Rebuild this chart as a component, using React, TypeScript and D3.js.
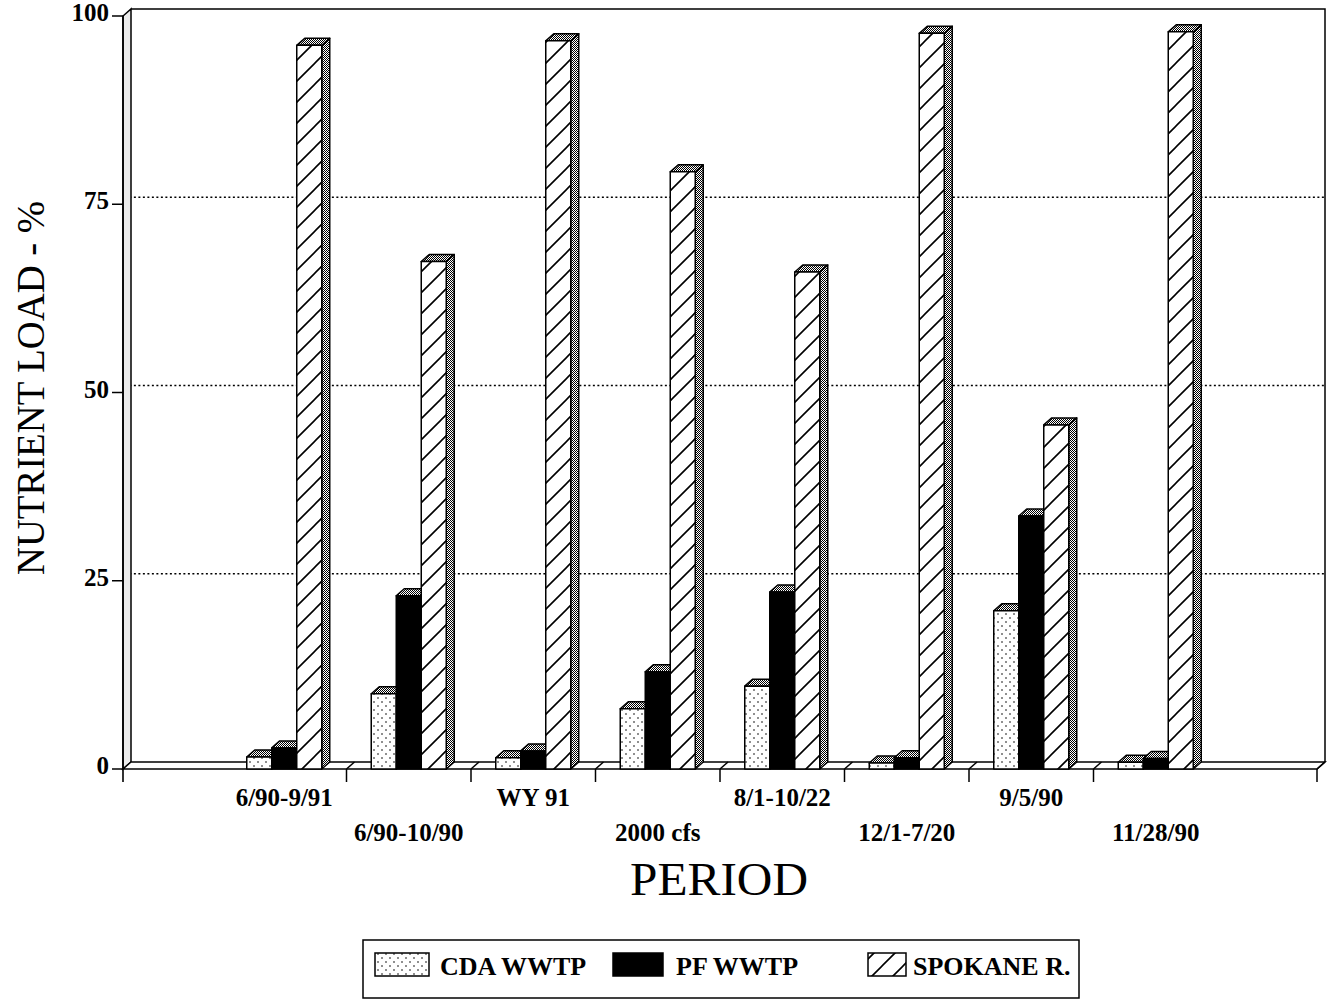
import React from "react";
import * as d3 from "d3";

// Nutrient load share (%) by period for the three sources
const categories = [
  "6/90-9/91",
  "6/90-10/90",
  "WY 91",
  "2000 cfs",
  "8/1-10/22",
  "12/1-7/20",
  "9/5/90",
  "11/28/90",
];
const cdaValues = [1.6, 10.0, 1.5, 8.0, 11.0, 0.8, 21.0, 0.9];
const pfValues = [2.8, 23.0, 2.4, 12.9, 23.5, 1.5, 33.6, 1.4];
const spokaneValues = [96.1, 67.4, 96.7, 79.3, 66.0, 97.7, 45.7, 97.9];
const seriesNames = ["CDA WWTP", "PF WWTP", "SPOKANE R."];
const yTicks = [0, 25, 50, 75, 100];

const W = 1328;
const H = 1000;
const DX = 8; // depth offset of the 3-D frame
const DY = 7;
const AXIS_LEFT = 123;
const AXIS_RIGHT = 1317;
const BASE = 769;
const BAR_W = 25;
const SERIF = "'Liberation Serif', 'Times New Roman', Times, serif";

const x = d3.scaleBand<string>().domain(categories).range([222, 1218]).padding(0);
const y = d3.scaleLinear().domain([0, 100]).range([BASE, 16]);

const fills = ["url(#dots)", "#000", "url(#hatch)"];
const series = [cdaValues, pfValues, spokaneValues];

function Bar({ x0, v, fill }: { x0: number; v: number; fill: string }) {
  const x1 = x0 + BAR_W;
  const yt = y(v);
  const top = `M${x0},${yt}L${x1},${yt}L${x1 + DX},${yt - DY}L${x0 + DX},${yt - DY}Z`;
  const side = `M${x1},${yt}L${x1 + DX},${yt - DY}L${x1 + DX},${BASE - DY}L${x1},${BASE}Z`;
  return (
    <g stroke="#000" strokeWidth={1.5} strokeLinejoin="round">
      <path d={side} fill="url(#stipple)" />
      <path d={top} fill="url(#stipple)" />
      <rect x={x0} y={yt} width={BAR_W} height={BASE - yt} fill={fill} />
    </g>
  );
}

export default function App() {
  const bw = x.bandwidth();
  const boundaries = categories.slice(1).map((c) => x(c)!);
  const tickXs = [...boundaries, AXIS_RIGHT];

  return (
    <svg
      width={W}
      height={H}
      style={{ position: "absolute", left: 0, top: 0, background: "#fff" }}
      fontFamily={SERIF}
    >
      <defs>
        <pattern id="dots" patternUnits="userSpaceOnUse" width={8} height={8}>
          <rect width={8} height={8} fill="#fff" />
          <circle cx={2} cy={2} r={0.8} fill="#000" />
          <circle cx={6} cy={6} r={0.8} fill="#000" />
        </pattern>
        <pattern id="hatch" patternUnits="userSpaceOnUse" width={21} height={21}>
          <rect width={21} height={21} fill="#fff" />
          <path d="M-5,5L5,-5M0,21L21,0M16,26L26,16" stroke="#000" strokeWidth={1.6} />
        </pattern>
        <pattern id="stipple" patternUnits="userSpaceOnUse" width={2} height={2}>
          <rect width={2} height={2} fill="#fff" />
          <rect x={0} y={0} width={1} height={1} fill="#000" />
          <rect x={1} y={1} width={1} height={1} fill="#000" />
        </pattern>
      </defs>

      {/* back wall */}
      <path
        d={`M${AXIS_LEFT + DX},${y(100) - DY}L${AXIS_RIGHT + DX},${y(100) - DY}L${AXIS_RIGHT + DX},${BASE - DY}`}
        fill="none"
        stroke="#000"
        strokeWidth={1.5}
      />

      {/* gridlines on the back wall */}
      {yTicks
        .filter((t) => t > 0 && t < 100)
        .map((t) => (
          <path
            key={t}
            d={`M${AXIS_LEFT},${y(t)}L${AXIS_LEFT + DX},${y(t) - DY}L${AXIS_RIGHT + DX},${y(t) - DY}`}
            fill="none"
            stroke="#000"
            strokeWidth={1.3}
            strokeDasharray="2 2.5"
          />
        ))}

      {/* left wall */}
      <path
        d={`M${AXIS_LEFT},${BASE}L${AXIS_LEFT},${y(100)}L${AXIS_LEFT + DX},${y(100) - DY}L${AXIS_LEFT + DX},${BASE - DY}Z`}
        fill="#ececec"
        stroke="#000"
        strokeWidth={1.5}
      />

      {/* floor */}
      <path
        d={`M${AXIS_LEFT},${BASE}L${AXIS_RIGHT},${BASE}L${AXIS_RIGHT + DX},${BASE - DY}L${AXIS_LEFT + DX},${BASE - DY}Z`}
        fill="#fff"
        stroke="#000"
        strokeWidth={1.5}
      />
      {tickXs.map((tx, i) => (
        <g key={i} stroke="#000" strokeWidth={1.5}>
          <line x1={tx} y1={BASE} x2={tx + DX} y2={BASE - DY} />
          <line x1={tx} y1={BASE} x2={tx} y2={BASE + 13} />
        </g>
      ))}
      <line x1={AXIS_LEFT} y1={y(100)} x2={AXIS_LEFT} y2={BASE + 13} stroke="#000" strokeWidth={1.6} />

      {/* y axis ticks and labels */}
      {yTicks.map((t) => (
        <g key={t}>
          <line x1={112} y1={y(t)} x2={AXIS_LEFT} y2={y(t)} stroke="#000" strokeWidth={1.5} />
          <text
            x={109}
            y={y(t) + 5}
            textAnchor="end"
            fontSize={25}
            fontWeight="bold"
          >
            {t}
          </text>
        </g>
      ))}

      {/* bars */}
      {categories.map((c, i) => {
        const cx = x(c)! + bw / 2;
        return (
          <g key={c}>
            {series.map((vals, s) => (
              <Bar key={s} x0={cx - 1.5 * BAR_W + s * BAR_W} v={vals[i]} fill={fills[s]} />
            ))}
          </g>
        );
      })}

      {/* category labels, staggered on two rows */}
      {categories.map((c, i) => (
        <text
          key={c}
          x={x(c)! + bw / 2}
          y={i % 2 === 0 ? 806 : 841}
          textAnchor="middle"
          fontSize={25}
          fontWeight="bold"
        >
          {c}
        </text>
      ))}

      {/* axis titles */}
      <text x={719} y={895} textAnchor="middle" fontSize={46} textLength={178} lengthAdjust="spacingAndGlyphs">
        PERIOD
      </text>
      <text
        transform="translate(44,388) rotate(-90)"
        textAnchor="middle"
        fontSize={40}
        textLength={374}
        lengthAdjust="spacingAndGlyphs"
      >
        NUTRIENT LOAD - %
      </text>

      {/* legend */}
      <rect x={363} y={940} width={716} height={58} fill="#fff" stroke="#000" strokeWidth={1.5} />
      {[
        { x0: 375, w: 54, tx: 440 },
        { x0: 613, w: 50, tx: 676 },
        { x0: 868, w: 38, tx: 913 },
      ].map((l, s) => (
        <g key={s}>
          <rect x={l.x0} y={953} width={l.w} height={23} fill={fills[s]} stroke="#000" strokeWidth={1.5} />
          <text x={l.tx} y={975} fontSize={26} fontWeight="bold">
            {seriesNames[s]}
          </text>
        </g>
      ))}
    </svg>
  );
}
